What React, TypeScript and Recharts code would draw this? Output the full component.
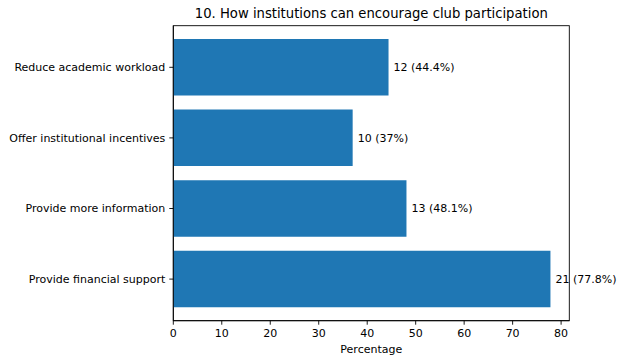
import React from 'react';
import { BarChart, Bar, XAxis, YAxis, LabelList, Customized } from 'recharts';

const categories = [
    'Reduce academic workload',
    'Offer institutional incentives',
    'Provide more information',
    'Provide financial support',
];
const counts = [12, 10, 13, 21];
const percentages = [44.4, 37, 48.1, 77.8];
const xTicks = [0, 10, 20, 30, 40, 50, 60, 70, 80];

const data = categories.map((name, i) => ({ name, count: counts[i], pct: percentages[i] }));

const FONT = '"DejaVu Sans", sans-serif';
const PLOT_LEFT = 173.3;
const PLOT_RIGHT = 569.3;
const PLOT_TOP = 25.7;
const PLOT_BOTTOM = 320.7;

const ValueLabel = (props: any) => {
    const { x, y, width, height, index } = props;
    const d = data[index];
    return (
        <text x={x + width + 5} y={y + height / 2} dy="0.355em" fontSize={11} fontFamily={FONT} fill="#000">
            {`${d.count} (${d.pct}%)`}
        </text>
    );
};

const CategoryTick = (props: any) => {
    const { x, y, payload } = props;
    return (
        <text x={x} y={y} dy="0.355em" textAnchor="end" fontSize={11} fontFamily={FONT} fill="#000">
            {payload.value}
        </text>
    );
};

const Texts = () => (
    <g>
        <rect
            x={PLOT_LEFT}
            y={PLOT_TOP}
            width={PLOT_RIGHT - PLOT_LEFT}
            height={PLOT_BOTTOM - PLOT_TOP}
            fill="none"
            stroke="#000"
            strokeWidth={0.9}
        />
        <text x={(PLOT_LEFT + PLOT_RIGHT) / 2} y={18} textAnchor="middle" fontSize={13.2} fontFamily={FONT} fill="#000">
            10. How institutions can encourage club participation
        </text>
        <text x={(PLOT_LEFT + PLOT_RIGHT) / 2} y={352.5} textAnchor="middle" fontSize={11} fontFamily={FONT} fill="#000">
            Percentage
        </text>
    </g>
);

const App: React.FC = () => {
    const tickStyle = { fontSize: 11, fontFamily: FONT, fill: '#000' };
    const line = { stroke: '#000', strokeWidth: 0.9 };
    return (
        <div style={{ position: 'absolute', left: 0, top: 0, background: '#fff' }}>
            <BarChart
                width={624}
                height={363}
                data={data}
                layout="vertical"
                margin={{ top: PLOT_TOP, right: 624 - PLOT_RIGHT, bottom: 363 - PLOT_BOTTOM - 30, left: 0 }}
            >
                <XAxis
                    type="number"
                    domain={[0, 81.69]}
                    ticks={xTicks}
                    allowDataOverflow
                    height={30}
                    tick={tickStyle}
                    tickSize={4}
                    tickMargin={4}
                    axisLine={line}
                    tickLine={line}
                />
                <YAxis
                    type="category"
                    dataKey="name"
                    width={PLOT_LEFT}
                    padding={{ top: 6.3, bottom: 6.3 }}
                    tick={<CategoryTick />}
                    tickSize={4}
                    tickMargin={4}
                    axisLine={line}
                    tickLine={line}
                />
                <Bar dataKey="pct" fill="#1f77b4" barSize={56.5} isAnimationActive={false}>
                    <LabelList dataKey="pct" content={<ValueLabel />} />
                </Bar>
                <Customized component={Texts} />
            </BarChart>
        </div>
    );
};

export default App;
